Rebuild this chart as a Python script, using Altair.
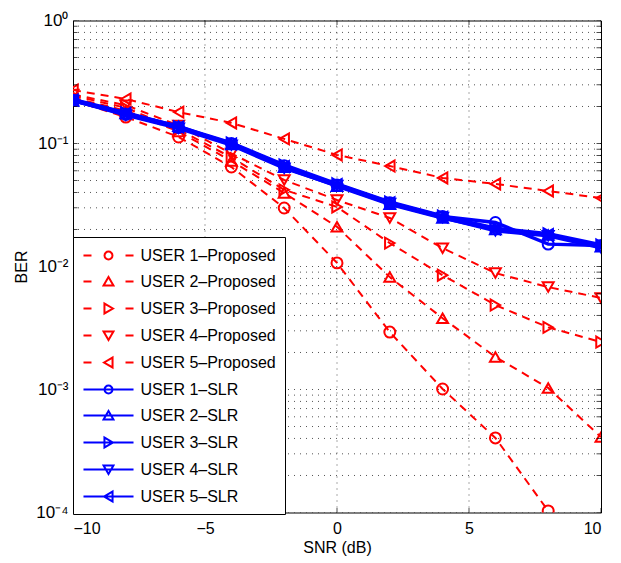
import altair as alt
import pandas as pd

snr = [-10, -8, -6, -4, -2, 0, 2, 4, 6, 8, 10]

users = ["USER 1", "USER 2", "USER 3", "USER 4", "USER 5"]

prop_u1 = [0.224, 0.164, 0.113, 0.0644, 0.0299, 0.0107, 0.00293, 0.00101, 0.000404, 0.000103, None]
prop_u2 = [0.235, 0.185, 0.125, 0.072, 0.0396, 0.021, 0.0082, 0.0038, 0.00184, 0.00103, 0.00041]
prop_u3 = [0.245, 0.195, 0.130, 0.077, 0.042, 0.0305, 0.0155, 0.0085, 0.00486, 0.0032, 0.00243]
prop_u4 = [0.250, 0.205, 0.140, 0.083, 0.0505, 0.0347, 0.0248, 0.0141, 0.00885, 0.0068, 0.00555]
prop_u5 = [0.272, 0.230, 0.180, 0.147, 0.109, 0.0807, 0.0656, 0.0525, 0.0469, 0.0411, 0.036]

slr_u1 = [0.225, 0.172, 0.135, 0.100, 0.066, 0.046, 0.033, 0.0255, 0.0228, 0.0152, 0.0148]
slr_u2 = [0.222, 0.175, 0.138, 0.098, 0.064, 0.045, 0.032, 0.0248, 0.0200, 0.0180, 0.0145]
slr_u3 = [0.228, 0.178, 0.137, 0.101, 0.067, 0.047, 0.0335, 0.0258, 0.0205, 0.0185, 0.0150]
slr_u4 = [0.224, 0.170, 0.133, 0.097, 0.063, 0.0455, 0.0325, 0.0250, 0.0195, 0.0178, 0.0142]
slr_u5 = [0.226, 0.176, 0.136, 0.099, 0.065, 0.0465, 0.0330, 0.0252, 0.0202, 0.0182, 0.0147]

prop_all = [prop_u1, prop_u2, prop_u3, prop_u4, prop_u5]
slr_all = [slr_u1, slr_u2, slr_u3, slr_u4, slr_u5]

y_major = [1, 0.1, 0.01, 0.001, 0.0001]
y_minor = [m * 10.0 ** e for e in [-4, -3, -2, -1] for m in range(2, 10)]
x_ticks = [-10, -5, 0, 5, 10]
x_grid = [-5, 0, 5]

labels = [u + "–Proposed" for u in users] + [u + "–SLR" for u in users]

RED = "#ff0000"
BLUE = "#0000ff"

rows_p, rows_s = [], []
for i, u in enumerate(users):
    for x, v in zip(snr, prop_all[i]):
        rows_p.append({"snr": x, "ber": v, "user": u})
    for x, v in zip(snr, slr_all[i]):
        rows_s.append({"snr": x, "ber": v, "user": u})
df_p = pd.DataFrame(rows_p)
df_s = pd.DataFrame(rows_s)

FONT = "Liberation Sans"

xs = alt.Scale(domain=[-10, 10], nice=False, zero=False)
ys = alt.Scale(type="log", domain=[0.0001, 1], nice=False)

xaxis = alt.Axis(values=x_ticks, grid=False, ticks=False, domain=False, title="SNR (dB)",
                 labelFontSize=16, labelPadding=8, titleFontSize=16, titleFontWeight="normal",
                 titlePadding=3, labelFont=FONT, titleFont=FONT, labelColor="black", titleColor="black")
yaxis = alt.Axis(values=y_major, grid=False, ticks=False, domain=False, title="BER",
                 labelExpr="datum.value > 0.5 ? '10⁰' : datum.value > 0.05 ? '10⁻¹' : datum.value > 0.005 ? '10⁻²' : datum.value > 0.0005 ? '10⁻³' : '10⁻⁴'",
                 labelFontSize=17, labelPadding=5, titleFontSize=16, titleFontWeight="normal",
                 titleX=-47, titleBaseline="alphabetic",
                 labelFont=FONT, titleFont=FONT, labelColor="black", titleColor="black")

X = lambda f: alt.X(f, type="quantitative", scale=xs, axis=xaxis)
Y = lambda f: alt.Y(f, type="quantitative", scale=ys, axis=yaxis)

grid_h = alt.Chart(pd.DataFrame({"v": y_major + y_minor})).mark_rule(
    color="#555555", strokeDash=[1, 5], strokeWidth=1).encode(y=Y("v"))
grid_v = alt.Chart(pd.DataFrame({"v": x_grid})).mark_rule(
    color="#555555", strokeDash=[1, 5], strokeWidth=1).encode(x=X("v"))

ty = pd.DataFrame([{"x": xv, "y": yv} for xv in [-10, 10] for yv in y_major + y_minor])
tx = pd.DataFrame([{"x": xv, "y": yv} for xv in x_ticks for yv in [0.0001, 1]])
ticks_y = alt.Chart(ty).mark_tick(orient="horizontal", size=9, thickness=1, color="black", clip=True).encode(
    x=X("x"), y=Y("y"))
ticks_x = alt.Chart(tx).mark_tick(orient="vertical", size=9, thickness=1, color="black", clip=True).encode(
    x=X("x"), y=Y("y"))

shape_scale = alt.Scale(domain=users, range=["circle", "triangle-up", "triangle-right", "triangle-down", "triangle-left"])

red_lines = alt.Chart(df_p).mark_line(color=RED, strokeWidth=2, strokeDash=[8, 6], clip=True).encode(
    x=X("snr"), y=Y("ber"), detail="user:N")
red_pts = alt.Chart(df_p).mark_point(color=RED, filled=False, strokeWidth=2, size=120, opacity=1, clip=True).encode(
    x=X("snr"), y=Y("ber"), shape=alt.Shape("user:N", scale=shape_scale, legend=None))
blue_lines = alt.Chart(df_s).mark_line(color=BLUE, strokeWidth=3.5, clip=True).encode(
    x=X("snr"), y=Y("ber"), detail="user:N")
blue_pts = alt.Chart(df_s).mark_point(color=BLUE, filled=False, strokeWidth=2, size=120, opacity=1, clip=True).encode(
    x=X("snr"), y=Y("ber"), shape=alt.Shape("user:N", scale=shape_scale, legend=None))

# legend symbols: line segment + marker (unit = 9 px)
dash = "M-2.78,0H-1.89M1.89,0H2.78"
solid = "M-2.78,0H2.78"
mk = [
    "M0.44,0A0.44,0.44,0,1,1,-0.44,0A0.44,0.44,0,1,1,0.44,0Z",
    "M0,-0.5L0.55,0.45L-0.55,0.45Z",
    "M0.5,0L-0.45,-0.55L-0.45,0.55Z",
    "M0,0.5L0.55,-0.45L-0.55,-0.45Z",
    "M-0.5,0L0.45,-0.55L0.45,0.55Z",
]
legend_paths = [dash + m for m in mk] + [solid + m for m in mk]
legend_colors = [RED] * 5 + [BLUE] * 5

leg_cfg = alt.Legend(title=None, orient="none", legendX=0, legendY=216.5, direction="vertical",
                     symbolSize=324, symbolStrokeWidth=2, symbolOffset=17, labelOffset=22,
                     labelFont=FONT, labelFontSize=16, labelColor="black", rowPadding=8.0,
                     padding=8.5, strokeColor="black", fillColor="white", labelLimit=400)

leg = alt.Chart(pd.DataFrame({"label": labels})).transform_filter("false").mark_point(
    filled=False, opacity=1).encode(
    shape=alt.Shape("label:N", scale=alt.Scale(domain=labels, range=legend_paths), legend=leg_cfg),
    color=alt.Color("label:N", scale=alt.Scale(domain=labels, range=legend_colors), legend=leg_cfg),
)

chart = alt.layer(grid_h, grid_v, red_lines, red_pts, blue_lines, blue_pts, ticks_y, ticks_x, leg).resolve_scale(
    shape="independent", color="independent"
).properties(
    width=528, height=492,
    autosize=alt.AutoSizeParams(type="none"),
    padding={"left": 65, "top": 12.5, "right": 12, "bottom": 43},
).configure(font=FONT).configure_view(stroke="black", strokeWidth=1)

chart.save("out.html", embed_options={"renderer": "svg", "actions": False})
